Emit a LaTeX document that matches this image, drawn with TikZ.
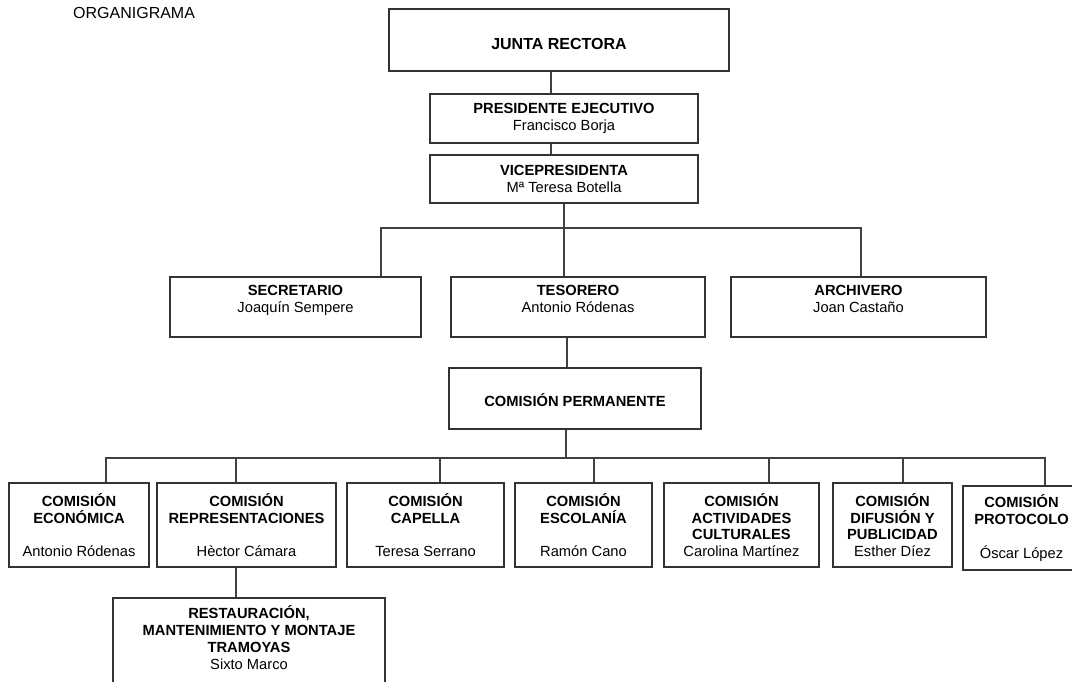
\documentclass[tikz,border=0pt]{standalone}
\usepackage{fontspec}
\setmainfont{Liberation Sans}
\begin{document}
\begin{tikzpicture}[x=1pt,y=-1pt,
  box/.style={draw=black!80, line width=1.1pt, fill=white, align=center, inner sep=0pt,
    font=\fontsize{14.7}{16.8}\selectfont},
  link/.style={draw=black!75, line width=1.1pt}]
\clip (0,0) rectangle (1072,681);
\fill[white] (0,0) rectangle (1072,681);

\node[anchor=west, inner sep=0pt, font=\fontsize{16}{18}\selectfont] (title) at (73,13) {ORGANIGRAMA};

\node[box, minimum width=340pt, minimum height=62pt, font=\fontsize{16}{18}\selectfont\bfseries] (junta) at (559,40) {\raisebox{-4pt}[\height][\depth]{JUNTA RECTORA}};
\node[box, minimum width=268pt, minimum height=49pt] (pres) at (564,118.5) {\textbf{PRESIDENTE EJECUTIVO}\\Francisco Borja};
\node[box, minimum width=268pt, minimum height=48pt] (vice) at (564,179) {\textbf{VICEPRESIDENTA}\\Mª Teresa Botella};

\node[box, minimum width=251pt, minimum height=60pt] (secr) at (295.5,307) {\textbf{SECRETARIO}\\Joaquín Sempere\\\mbox{}};
\node[box, minimum width=254pt, minimum height=60pt] (teso) at (578,307) {\textbf{TESORERO}\\Antonio Ródenas\\\mbox{}};
\node[box, minimum width=255pt, minimum height=60pt] (arch) at (858.5,307) {\textbf{ARCHIVERO}\\Joan Castaño\\\mbox{}};

\node[box, minimum width=252pt, minimum height=61pt] (perm) at (575,398.5) {\raisebox{-2pt}[\height][\depth]{\textbf{COMISIÓN PERMANENTE}}};

\node[box, minimum width=140pt, minimum height=84pt] (econ) at (79,525) {\textbf{COMISIÓN}\\\textbf{ECONÓMICA}\\\mbox{}\\Antonio Ródenas};
\node[box, minimum width=179pt, minimum height=84pt] (repr) at (246.5,525) {\textbf{COMISIÓN}\\\textbf{REPRESENTACIONES}\\\mbox{}\\Hèctor Cámara};
\node[box, minimum width=157pt, minimum height=84pt] (cap) at (425.5,525) {\textbf{COMISIÓN}\\\textbf{CAPELLA}\\\mbox{}\\Teresa Serrano};
\node[box, minimum width=137pt, minimum height=84pt] (esc) at (583.5,525) {\textbf{COMISIÓN}\\\textbf{ESCOLANÍA}\\\mbox{}\\Ramón Cano};
\node[box, minimum width=155pt, minimum height=84pt] (act) at (741.5,525) {\textbf{COMISIÓN}\\\textbf{ACTIVIDADES}\\\textbf{CULTURALES}\\Carolina Martínez};
\node[box, minimum width=119pt, minimum height=84pt] (dif) at (892.5,525) {\textbf{COMISIÓN}\\\textbf{DIFUSIÓN Y}\\\textbf{PUBLICIDAD}\\Esther Díez};
\node[box, minimum width=117pt, minimum height=84pt] (prot) at (1021.5,528) {\textbf{COMISIÓN}\\\textbf{PROTOCOLO}\\\mbox{}\\Óscar López};

\node[box, minimum width=272pt, minimum height=96pt] (rest) at (249,646) {\textbf{RESTAURACIÓN,}\\\textbf{MANTENIMIENTO Y MONTAJE}\\\textbf{TRAMOYAS}\\Sixto Marco\\\mbox{}};

% connector x positions and bar levels
\coordinate (xa) at (551,0);
\coordinate (xs) at (381,0);
\coordinate (xt) at (564,0);
\coordinate (xr) at (861,0);
\coordinate (xp) at (567,0);
\coordinate (xq) at (566,0);
\coordinate (bar1) at (0,228);
\coordinate (bar2) at (0,458);
\coordinate (x1) at (106,0);
\coordinate (x2) at (236,0);
\coordinate (x3) at (440,0);
\coordinate (x4) at (594,0);
\coordinate (x5) at (769,0);
\coordinate (x6) at (903,0);
\coordinate (x7) at (1045,0);

\draw[link] (junta.south -| xa) -- (pres.north -| xa);
\draw[link] (pres.south -| xa) -- (vice.north -| xa);
\draw[link] (vice.south -| xt) -- (bar1 -| xt);
\draw[link] (secr.north -| xs) -- (bar1 -| xs) -- (bar1 -| xr) -- (arch.north -| xr);
\draw[link] (bar1 -| xt) -- (teso.north -| xt);
\draw[link] (teso.south -| xp) -- (perm.north -| xp);
\draw[link] (perm.south -| xq) -- (bar2 -| xq);
\draw[link] (econ.north -| x1) -- (bar2 -| x1) -- (bar2 -| x7) -- (prot.north -| x7);
\draw[link] (bar2 -| x2) -- (repr.north -| x2);
\draw[link] (bar2 -| x3) -- (cap.north -| x3);
\draw[link] (bar2 -| x4) -- (esc.north -| x4);
\draw[link] (bar2 -| x5) -- (act.north -| x5);
\draw[link] (bar2 -| x6) -- (dif.north -| x6);
\draw[link] (repr.south -| x2) -- (rest.north -| x2);
\end{tikzpicture}
\end{document}
